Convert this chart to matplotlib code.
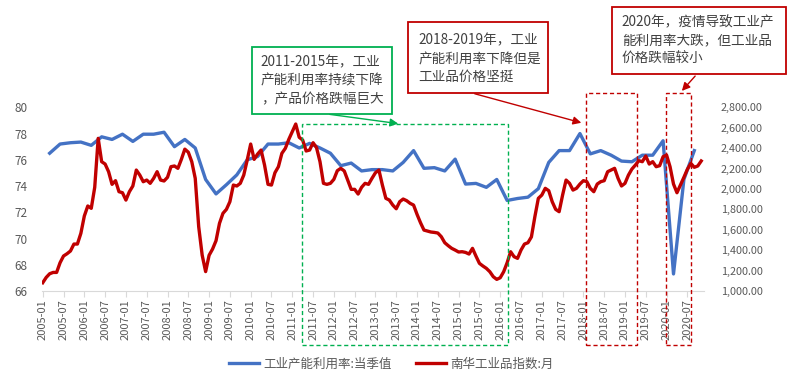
import matplotlib
matplotlib.use("Agg")
import matplotlib.pyplot as plt
import pandas as pd
from matplotlib.patches import Rectangle, FancyArrowPatch
from matplotlib.lines import Line2D

plt.rcParams['font.family'] = ['Noto Sans CJK SC', 'DejaVu Sans']

# ---------------- data ----------------
start_month = "2005-01"
# 工业产能利用率:当季值 (quarterly, 2005Q1 .. 2020Q3)
capacity_util = [76.5, 77.2, 77.3, 77.35, 77.1, 77.75, 77.55, 77.95, 77.4, 77.95, 77.95, 78.1, 77.0, 77.55, 76.9, 74.5,
                 73.4, 74.1, 74.85, 76.0, 76.25, 77.2, 77.2, 77.3, 76.9, 77.25, 76.9, 76.5, 75.55, 75.75, 75.15, 75.25,
                 75.25, 75.15, 75.8, 76.7, 75.35, 75.4, 75.15, 76.05, 74.15, 74.2, 73.9, 74.5, 72.9, 73.05, 73.15, 73.8,
                 75.8, 76.7, 76.7, 78.0, 76.45, 76.7, 76.35, 75.9, 75.85, 76.35, 76.35, 77.45, 67.3, 74.5, 76.7]
# 南华工业品指数:月 (monthly, 2005-01 .. 2020-11)
nanhua_index = [1081, 1133, 1169, 1182, 1182, 1277, 1343, 1365, 1392, 1460, 1460, 1565, 1735, 1833, 1810, 2016,
                2496, 2267, 2244, 2169, 2045, 2081, 1973, 1963, 1891, 1973, 2029, 2185, 2136, 2071, 2087, 2055,
                2104, 2169, 2087, 2078, 2114, 2218, 2225, 2202, 2290, 2390, 2360, 2267, 2104, 1630, 1352, 1190,
                1350, 1411, 1493, 1663, 1761, 1800, 1875, 2038, 2029, 2055, 2136, 2283, 2440, 2290, 2342, 2381,
                2234, 2045, 2038, 2159, 2218, 2349, 2398, 2486, 2561, 2636, 2506, 2479, 2372, 2381, 2453, 2404,
                2267, 2055, 2045, 2055, 2094, 2179, 2202, 2176, 2087, 1996, 1996, 1950, 2016, 2055, 2045, 2104,
                2159, 2185, 2038, 1908, 1891, 1842, 1806, 1875, 1901, 1885, 1859, 1842, 1751, 1669, 1597, 1588,
                1578, 1574, 1568, 1532, 1473, 1444, 1418, 1401, 1382, 1385, 1378, 1362, 1418, 1342, 1271, 1245,
                1222, 1189, 1140, 1114, 1130, 1189, 1277, 1385, 1336, 1320, 1401, 1460, 1473, 1530, 1728, 1908,
                1940, 2006, 1983, 1875, 1800, 1777, 1940, 2087, 2055, 1989, 2006, 2048, 2081, 2071, 2006, 1973,
                2048, 2071, 2081, 2169, 2185, 2202, 2104, 2029, 2055, 2136, 2195, 2234, 2277, 2267, 2323, 2244,
                2267, 2218, 2228, 2316, 2332, 2218, 2048, 1963, 2038, 2114, 2192, 2251, 2212, 2225, 2274]
series_names = ["工业产能利用率:当季值", "南华工业品指数:月"]
left_ticks = [66, 68, 70, 72, 74, 76, 78, 80]
right_ticks = [1000, 1200, 1400, 1600, 1800, 2000, 2200, 2400, 2600, 2800]
notes = [["2011-2015年，工业", "产能利用率持续下降", "，产品价格跌幅巨大"],
         ["2018-2019年，工业", "产能利用率下降但是", "工业品价格坚挺"],
         ["2020年，疫情导致工业产", "能利用率大跌，但工业品", "价格跌幅较小"]]

months = pd.date_range(start_month, periods=len(nanhua_index), freq="MS")
month_pos = list(range(len(months)))
quarter_pos = [3 * k + 2 for k in range(len(capacity_util))]  # quarter-end month
tick_pos = month_pos[::6]
tick_labels = [months[i].strftime("%Y-%m") for i in tick_pos]

BLUE = "#4472C4"
RED = "#C00000"
GREEN = "#00B050"
GRAY = "#595959"
TXT = "#404040"

W, H = 793, 372
fig = plt.figure(figsize=(W / 100, H / 100), dpi=100)
fx = lambda x: x / W
fy = lambda y: 1 - y / H

L, R, T, B = 41.7, 704, 107.3, 291
ax = fig.add_axes([fx(L), fy(B), fx(R) - fx(L), fy(T) - fy(B)])
ax2 = ax.twinx()

ax.plot(quarter_pos, capacity_util, color=BLUE, lw=2.4, solid_joinstyle="round", zorder=2)
ax2.plot(month_pos, nanhua_index, color=RED, lw=2.4, solid_joinstyle="round", zorder=3)

ax.set_xlim(-0.3, 190.8)
ax.set_ylim(66, 80)
ax2.set_ylim(1000, 2800)
ax.set_yticks(left_ticks)
ax.set_yticklabels([str(t) for t in left_ticks])
ax2.set_yticks(right_ticks)
ax2.set_yticklabels([f"{t:,.2f}" for t in right_ticks])
ax.set_xticks(tick_pos)
ax.set_xticklabels(tick_labels, rotation=90)

for a in (ax, ax2):
    for s in a.spines.values():
        s.set_visible(False)
    a.patch.set_visible(False)
ax.spines["bottom"].set_visible(True)
ax.spines["bottom"].set_color("#D9D9D9")
ax.tick_params(axis="x", length=4, color="#D9D9D9", width=0.8, pad=2, labelsize=8, labelcolor=GRAY)
ax.tick_params(axis="y", length=0, pad=10, labelsize=8.5, labelcolor=GRAY)
ax2.tick_params(axis="y", length=0, pad=12, labelsize=7.8, labelcolor=GRAY)

# legend
handles = [Line2D([], [], color=BLUE, lw=2.4), Line2D([], [], color=RED, lw=2.4)]
fig.legend(handles, series_names, loc="center", bbox_to_anchor=(fx(391.5), fy(364)), ncol=2,
           frameon=False, fontsize=9, handlelength=2.4, handletextpad=0.35, columnspacing=1.9,
           labelcolor=GRAY)

# dashed highlight rectangles
def dashed_rect(x0, y0, x1, y1, color):
    r = Rectangle((fx(x0), fy(y1)), fx(x1) - fx(x0), fy(y0) - fy(y1), transform=fig.transFigure,
                  fill=False, edgecolor=color, lw=1.0, linestyle=(0, (3, 2)), zorder=5)
    fig.add_artist(r)

dashed_rect(302.3, 124.3, 508.3, 345, GREEN)
dashed_rect(585.5, 93.3, 637.3, 345, RED)
dashed_rect(665.5, 93.3, 691.0, 345, RED)

# note boxes
def note_box(x0, y0, x1, y1, color, lines, tx, ty):
    r = Rectangle((fx(x0), fy(y1)), fx(x1) - fx(x0), fy(y0) - fy(y1), transform=fig.transFigure,
                  facecolor="white", edgecolor=color, lw=1.3, zorder=6)
    fig.add_artist(r)
    for line, yy in zip(lines, ty):
        fig.text(fx(tx), fy(yy), line, fontsize=9.8, color=TXT, ha="left", va="center", zorder=7)

def arrow(p0, p1, color):
    a = FancyArrowPatch((fx(p0[0]), fy(p0[1])), (fx(p1[0]), fy(p1[1])), transform=fig.transFigure,
                        arrowstyle="-|>", mutation_scale=12, color=color, lw=1.0, zorder=6)
    fig.add_artist(a)

arrow((327, 114), (401, 124), GREEN)
arrow((472, 93), (584, 123.5), RED)
arrow((697, 74), (680, 93), RED)

note_box(251.7, 46.7, 391.7, 114, GREEN, notes[0], 260.7, [62.7, 80.7, 99.3])
note_box(408.3, 22, 547.7, 93, RED, notes[1], 418.3, [40, 59.3, 77.3])
note_box(611.7, 7.3, 786, 74, RED, notes[2], 621.7, [22.7, 40.7, 59.3])

fig.savefig("out.png", dpi=100)
